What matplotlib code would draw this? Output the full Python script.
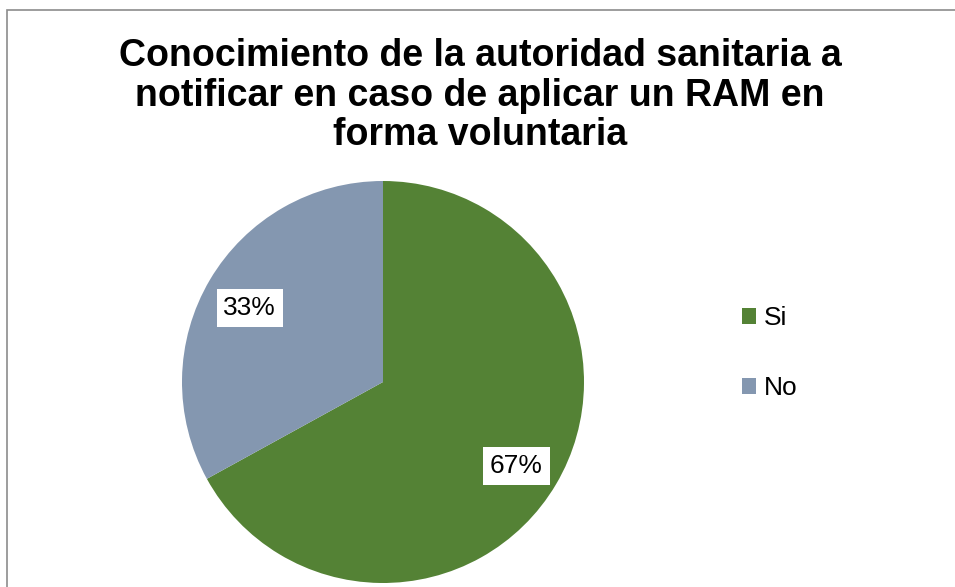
import matplotlib
matplotlib.use("Agg")
import matplotlib.pyplot as plt
from matplotlib.patches import Patch, Rectangle

labels = ["Si", "No"]
values = [67, 33]
colors = ["#548235", "#8497B0"]
title = "Conocimiento de la autoridad sanitaria a\nnotificar en caso de aplicar un RAM en\nforma voluntaria"

W, H = 955, 587
fig = plt.figure(figsize=(W / 100, H / 100), dpi=100)
fig.patch.set_facecolor("white")
plt.rcParams["font.family"] = ["Liberation Sans", "DejaVu Sans"]

# outer chart border (runs off right and bottom)
fig.patches.append(Rectangle((7 / W, -0.1), 1.2, 1 - 10 / H + 0.1,
                             transform=fig.transFigure, fill=False,
                             edgecolor="#8c8c8c", linewidth=1.2))

# pie axes: centre (383, 382) px from top-left, radius 201 px
cx, cy, r = 383, 382, 201
ax = fig.add_axes([(cx - r) / W, (H - cy - r) / H, 2 * r / W, 2 * r / H])
wedges, texts, autotexts = ax.pie(
    values, colors=colors, startangle=90, counterclock=False,
    autopct=lambda p: f"{p:.0f}%", pctdistance=0.77,
    wedgeprops=dict(linewidth=0),
    textprops=dict(fontsize=19, color="black"))
for t in autotexts:
    t.set_bbox(dict(facecolor="white", edgecolor="none", pad=5))
    x, y = t.get_position()
    t.set_position((x, y - 0.025))
ax.set_xlim(-1, 1)
ax.set_ylim(-1, 1)

fig.text(480 / W, 1 - 38 / H, title, ha="center", va="top",
         fontsize=27, fontweight="bold", linespacing=1.13)

handles = [Patch(facecolor=c, edgecolor="none") for c in colors]
fig.legend(handles, labels, loc="center left",
           bbox_to_anchor=(718 / W, 1 - 353 / H), frameon=False,
           fontsize=19, handlelength=0.55, handleheight=0.55,
           handletextpad=0.3, labelspacing=1.75)

fig.savefig("out.png", dpi=100, facecolor="white")
